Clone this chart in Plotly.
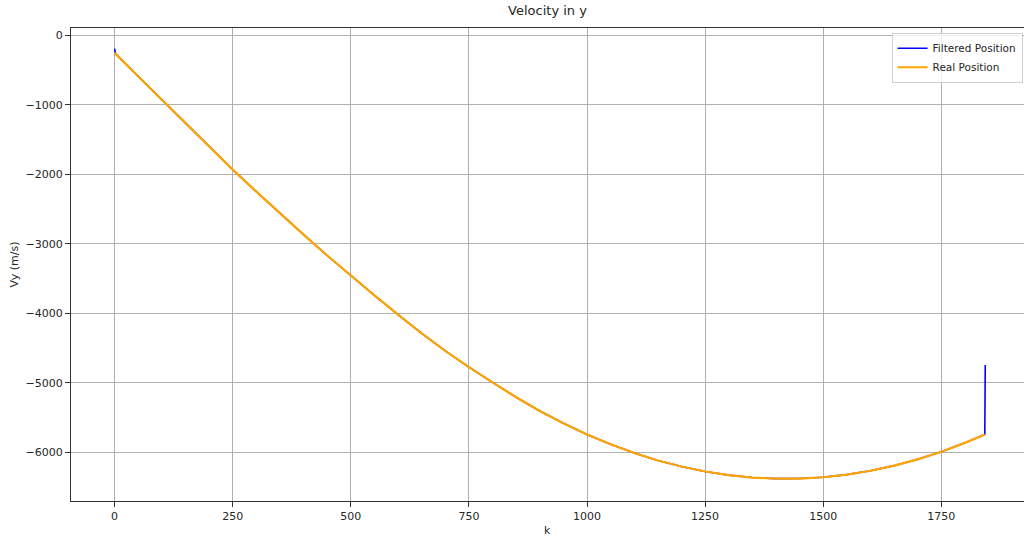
import plotly.graph_objects as go

# Time step index
k_real = [0, 2, 50, 100, 150, 200, 250, 300, 350, 400, 450, 500, 550, 600, 650, 700,
          750, 800, 850, 900, 950, 1000, 1050, 1100, 1150, 1200, 1250, 1300, 1350,
          1400, 1450, 1500, 1550, 1600, 1650, 1700, 1750, 1800, 1842]
vy_real = [-250, -264, -588, -926, -1262, -1598, -1931, -2248, -2560, -2868, -3168,
           -3460, -3742, -4020, -4290, -4540, -4775, -4996, -5209, -5406, -5584,
           -5745, -5887, -6012, -6119, -6207, -6278, -6330, -6365, -6381, -6380,
           -6361, -6323, -6268, -6194, -6103, -5994, -5866, -5745]

k_filt = k_real + [1843]
vy_filt = [-190] + vy_real[1:] + [-4745]

x_ticks = [0, 250, 500, 750, 1000, 1250, 1500, 1750]
y_ticks = [0, -1000, -2000, -3000, -4000, -5000, -6000]

font_family = "DejaVu Sans"
text_color = "#262626"

fig = go.Figure()
fig.add_trace(go.Scatter(x=k_filt, y=vy_filt, mode="lines", name="Filtered Position",
                         line=dict(color="#0000ff", width=1.6)))
fig.add_trace(go.Scatter(x=k_real, y=vy_real, mode="lines", name="Real Position",
                         line=dict(color="#ffa500", width=2.2)))

fig.update_layout(
    width=1024, height=538,
    margin=dict(l=71, r=0, t=28, b=37, autoexpand=False),
    paper_bgcolor="white", plot_bgcolor="white",
    font=dict(family=font_family, size=11, color=text_color),
    title=dict(text="Velocity in y", x=0.5, xref="paper", xanchor="center",
               y=1 - 10 / 538, yref="container", yanchor="middle",
               font=dict(size=13, color=text_color)),
    showlegend=True,
    legend=dict(x=0.9985, y=0.99, xanchor="right", yanchor="top",
                bgcolor="rgba(255,255,255,0.8)", bordercolor="#d0d0d0", borderwidth=1,
                font=dict(size=10.5, color=text_color),
                tracegroupgap=0, itemwidth=30),
)

fig.update_xaxes(
    range=[-92.3, 1925], tickvals=x_ticks, ticktext=[str(v) for v in x_ticks],
    showgrid=True, gridcolor="#b0b0b0", gridwidth=1,
    showline=True, linecolor="#333333", linewidth=1, mirror=True,
    ticks="outside", ticklen=5, tickcolor="#333333", zeroline=False,
    tickfont=dict(size=11, color=text_color), automargin=False,
)
fig.update_yaxes(
    range=[-6703, 108], tickvals=y_ticks,
    ticktext=[("\u2212" + str(-v)) if v < 0 else str(v) for v in y_ticks],
    showgrid=True, gridcolor="#b0b0b0", gridwidth=1,
    showline=True, linecolor="#333333", linewidth=1, mirror=False,
    ticks="outside", ticklen=5, tickcolor="#333333", zeroline=False,
    tickfont=dict(size=11, color=text_color), automargin=False,
)

fig.add_annotation(text="k", xref="paper", yref="paper", x=0.5, y=-0.0614,
                   xanchor="center", yanchor="middle", showarrow=False,
                   font=dict(size=11, color=text_color))
fig.add_annotation(text="Vy (m/s)", xref="paper", yref="paper", x=-0.0598, y=0.5,
                   xanchor="center", yanchor="middle", showarrow=False, textangle=-90,
                   font=dict(size=11, color=text_color))

fig.write_html("out.html", config={"displayModeBar": False},
               post_script="document.body.style.margin='0';document.body.style.overflow='hidden';")
